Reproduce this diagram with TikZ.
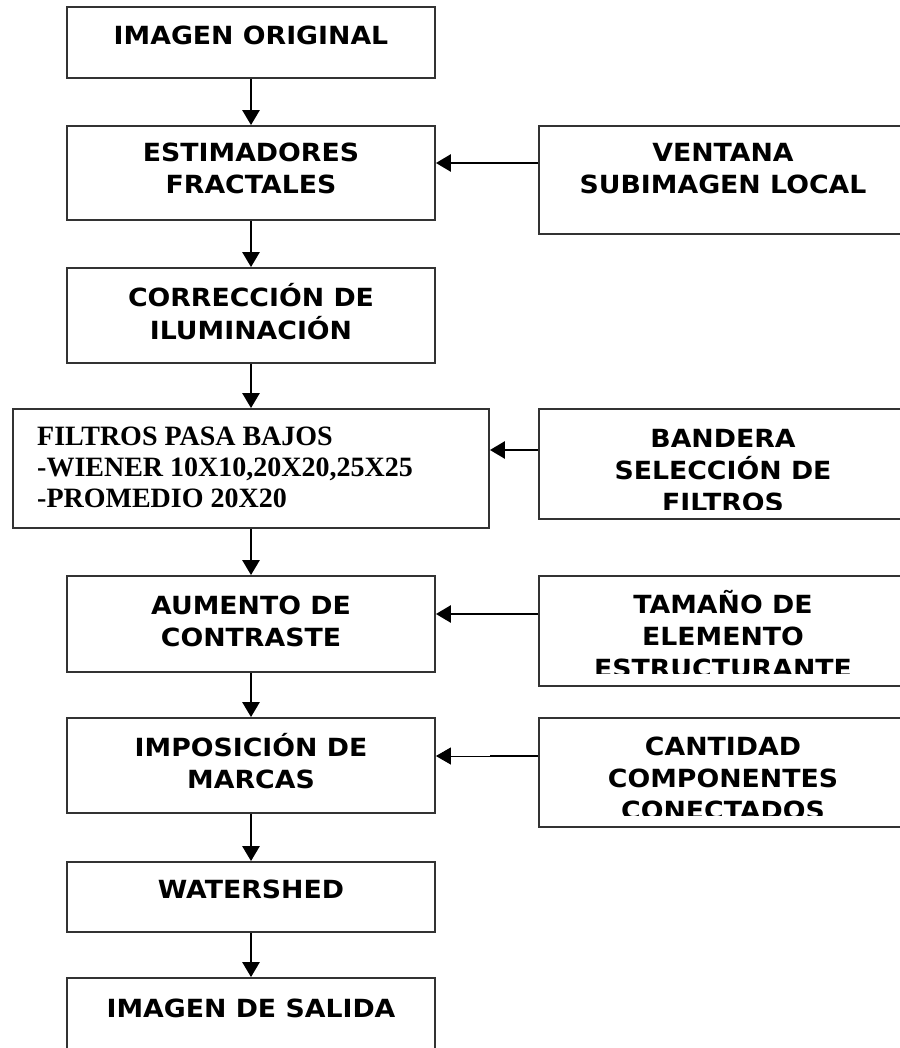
\documentclass[tikz,border=0pt]{standalone}
\usepackage{fontspec}
\usetikzlibrary{arrows.meta}
\newfontfamily\boxfont{DejaVu Sans}[FakeStretch=1.07]
\newfontfamily\serfont{Liberation Serif}
\newcommand\twol[2]{\begin{tabular}[t]{@{}c@{}}#1\\#2\end{tabular}}
\newcommand\threel[3]{\begin{tabular}[t]{@{}c@{}}#1\\#2\\#3\end{tabular}}
\tikzset{
  boxstyle/.style={draw=black!80, line width=1.8pt, inner sep=0pt, minimum width=368pt},
  lbl/.style={inner sep=0pt, anchor=base, font=\boxfont\bfseries\fontsize{25}{32}\selectfont},
  serlbl/.style={inner sep=0pt, anchor=base west, font=\serfont\bfseries\fontsize{28}{31}\selectfont},
  arr/.style={line width=2.6pt, -{Triangle[width=17pt,length=15pt]}},
  thinarr/.style={line width=1pt, -{Triangle[width=17pt,length=15pt]}},
  thickline/.style={line width=2.6pt},
}
\begin{document}
\begin{tikzpicture}[x=1pt,y=-1pt]
\fill[white] (0,0) rectangle (899,1048);
\useasboundingbox (0,0) rectangle (899,1048);

% left column boxes
\node[boxstyle, minimum height=71pt] (b1) at (251,42.5) {};
\node[boxstyle, minimum height=94pt] (b2) at (251,173) {};
\node[boxstyle, minimum height=95pt] (b3) at (251,315.5) {};
\node[boxstyle, minimum width=476pt, minimum height=119pt] (b4) at (251,468.5) {};
\node[boxstyle, minimum height=96pt] (b5) at (251,624) {};
\node[boxstyle, minimum height=95pt] (b6) at (251,765.5) {};
\node[boxstyle, minimum height=70pt] (b7) at (251,897) {};
\node[boxstyle, minimum height=90pt] (b8) at (251,1023) {};

% right column boxes
\node[boxstyle, minimum height=108pt] (r1) at (723,180) {};
\node[boxstyle, minimum height=110pt] (r2) at (723,464) {};
\node[boxstyle, minimum height=110pt] (r3) at (723,631) {};
\node[boxstyle, minimum height=109pt] (r4) at (723,772.5) {};

% texts
\node[lbl] (t1) at (251,45) {IMAGEN ORIGINAL};
\node[lbl] (t2) at (251,162) {\twol{ESTIMADORES}{FRACTALES}};
\node[lbl] (t3) at (251,306.5) {\twol{CORRECCIÓN DE}{ILUMINACIÓN}};
\node[serlbl] (t4) at (37,445) {\begin{tabular}[t]{@{}l@{}}FILTROS PASA BAJOS\\-WIENER 10X10,20X20,25X25\\-PROMEDIO 20X20\end{tabular}};
\node[lbl] (t5) at (251,614) {\twol{AUMENTO DE}{CONTRASTE}};
\node[lbl] (t6) at (251,756) {\twol{IMPOSICIÓN DE}{MARCAS}};
\node[lbl] (t7) at (251,898) {WATERSHED};
\node[lbl] (t8) at (251,1017) {IMAGEN DE SALIDA};

\node[lbl] (s1) at (723,162) {\twol{VENTANA}{SUBIMAGEN LOCAL}};
\begin{scope}
\clip (r2.north west) rectangle ([yshift=10pt]r2.south east);
\node[lbl] (s2) at (723,447) {\threel{BANDERA}{SELECCIÓN DE}{FILTROS}};
\end{scope}
\begin{scope}
\clip (r3.north west) rectangle ([yshift=13pt]r3.south east);
\node[lbl] (s3) at (723,613) {\threel{TAMAÑO DE}{ELEMENTO}{ESTRUCTURANTE}};
\end{scope}
\begin{scope}
\clip (r4.north west) rectangle ([yshift=12pt]r4.south east);
\node[lbl] (s4) at (723,755) {\threel{CANTIDAD}{COMPONENTES}{CONECTADOS}};
\end{scope}

% vertical arrows
\draw[arr] (b1.south) -- (b2.north);
\draw[arr] (b2.south) -- (b3.north);
\draw[arr] (b3.south) -- (b4.north);
\draw[arr] (b4.south) -- (b5.north);
\draw[arr] (b5.south) -- (b6.north);
\draw[arr] (b6.south) -- (b7.north);
\draw[arr] (b7.south) -- (b8.north);

% horizontal arrows
\draw[arr] ([yshift=17pt]r1.west) -- ([yshift=17pt]r1.west -| b2.east);
\draw[arr] ([yshift=14pt]r2.west) -- ([yshift=14pt]r2.west -| b4.east);
\draw[arr] ([yshift=17pt]r3.west) -- ([yshift=17pt]r3.west -| b5.east);
\coordinate (c4) at (490,756);
\draw[thickline] ([yshift=16.5pt]r4.west) -- (c4);
\draw[thinarr] (c4) -- (c4 -| b6.east);
\end{tikzpicture}
\end{document}
